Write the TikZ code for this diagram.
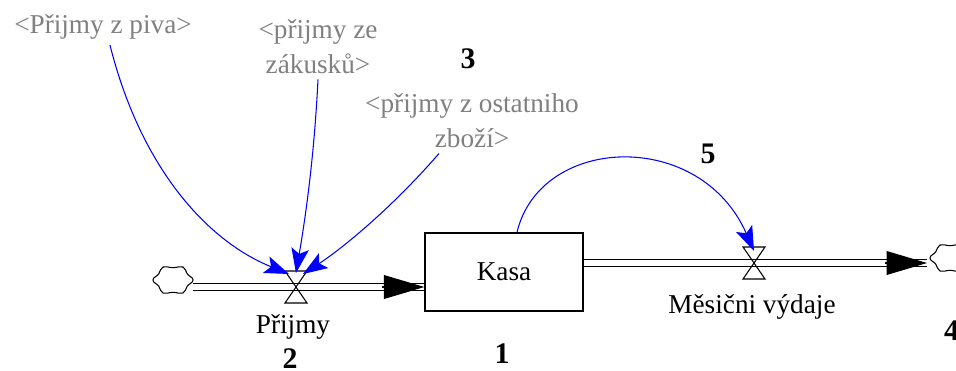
\documentclass[tikz,border=0pt]{standalone}
\usepackage{fontspec}
\setmainfont{Liberation Serif}
\usetikzlibrary{arrows.meta,calc}
\definecolor{infogray}{RGB}{128,128,128}
\tikzset{
valve/.pic={
  \draw[line width=0.6pt] (-11,-16) -- (11,-16) -- (-11,16) -- (11,16) -- cycle;
  },
cloud/.pic={
  \draw[line width=0.6pt] plot[smooth cycle, tension=0.8] coordinates {(20,0) (14.2,6.2) (10,13) (0,12.3) (-10,13) (-14.2,6.2) (-20,0) (-14.2,-6.2) (-10,-13) (0,-12.3) (10,-13) (14.2,-6.2)};
  },
pipe/.style={double, double distance=3.6pt, line width=0.7pt},
flowtip/.style={-{Triangle[length=23pt,width=13.5pt]}, line width=0.7pt},
link/.style={blue, line width=0.6pt, -{Stealth[length=14pt,width=10pt,inset=3pt]}},
info/.style={text=infogray, font=\fontsize{15.5}{19.8}\selectfont, align=center, anchor=base},
lbl/.style={font=\fontsize{15.5}{19.8}\selectfont, anchor=base},
num/.style={font=\fontsize{17}{20}\selectfont\bfseries, anchor=base}
}

\begin{document}
\begin{tikzpicture}[x=0.02cm, y=-0.02cm]
\useasboundingbox (0,0) rectangle (956,370);

\node[draw, line width=0.75pt, minimum width=3.16cm, minimum height=1.56cm,
  font=\fontsize{15.5}{19.8}\selectfont] (kasa) at (504,272) {Kasa};

\coordinate (src) at (193,287);
\coordinate (sink) at (927,263);
\coordinate (prijmy) at (296,287);
\coordinate (vydaje) at (754,263);
\pic at (173,280) {cloud};
\pic at (950,258) {cloud};

\draw[pipe] (src) -- (src -| kasa.west);
\path (src -| kasa.west) ++(-42,0) coordinate (t1);
\draw[flowtip] (t1) -- (src -| kasa.west);
\draw[pipe] (vydaje -| kasa.east) -- (sink);
\path (sink) ++(-42,0) coordinate (t2);
\draw[flowtip] (t2) -- (sink);

\pic at (prijmy) {valve};
\pic at (vydaje) {valve};

% two-line labels sit on the baseline of their last line
\node[info] (piva) at (103,33) {<Přijmy z piva>};
\node[info] (zakusky) at (318,73) {<přijmy ze\\zákusků>};
\node[info] (ostatni) at (472,147) {<přijmy z ostatniho\\zboží>};
\node[lbl] (prijmylbl) at (293,333) {Přijmy};
\node[lbl] (vydajelbl) at (752,313) {Měsični výdaje};

\draw[link] ([xshift=0.14cm]piva.south) .. controls (140,165) and (205,240) .. ($(prijmy)+(-7,-13)$);
\draw[link] (zakusky.south) .. controls (314,160) and (305,220) .. ($(prijmy)+(0,-14)$);
\draw[link] ([xshift=-0.66cm]ostatni.south) .. controls (390,210) and (340,250) .. ($(prijmy)+(7,-13)$);
\draw[link] ([xshift=0.26cm]kasa.north) .. controls (540,135) and (700,128) .. ($(vydaje)+(0,-12)$);

\node[num] (n1) at (502,363) {1};
\node[num] (n2) at (290,368) {2};
\node[num] (n3) at (468,68) {3};
\node[num, anchor=base west] (n4) at (938,340) {4};
\node[num] (n5) at (708,163) {5};
\end{tikzpicture}
\end{document}
